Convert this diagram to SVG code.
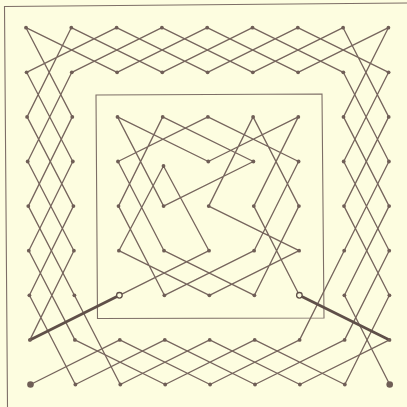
<svg xmlns="http://www.w3.org/2000/svg" width="407" height="407" viewBox="0 0 407 407">
<style>
.bg{fill:#fdfde0}
.frame{fill:none;stroke:#7d6e66;stroke-width:1.1}
.path{fill:none;stroke:#76655d;stroke-width:1.3;stroke-linejoin:round}
.thick{stroke:#5f4f48;stroke-width:2.8;stroke-linecap:round}
.dot{fill:#6f5e56}
.big{fill:#6f5e56}
.open{fill:#fdfde0;stroke:#5f4f48;stroke-width:1.3}
</style>
<rect class="bg" x="0" y="0" width="407" height="407"/>
<g id="frame">
<polyline class="frame" points="407,3 4.5,6.5 7.5,407"/>
<polygon class="frame" points="96,95 322,94 324,318 97.5,318.5"/>
</g>
<g id="connectors">
<polyline class="path" points="119.4,295.3 209.0,250.7 163.5,166 118.9,250.7 209.4,295.3 299.1,250.7 208.7,206.1 253.1,116.9 298.9,206.1 254.4,295.3 164.0,250.7 118.0,161.5 207.9,116.9 298.6,161.5 254.1,250.7 164.4,295.3 118.5,206.1 162.7,116.9 253.4,161.5 163.6,206.1 117.5,116.9 208.3,161.5 298.3,116.9 253.8,206.1 299.4,295.3"/>
<polyline class="path" points="30.5,384.5 119.8,339.9 210.1,384.5 299.6,339.9 344.2,250.7 388.9,161.5 343.3,72.3 252.5,27.7 162.3,72.3 71.3,27.7 27.1,116.9 73.4,206.1 29.4,295.3 75.4,384.5 164.8,339.9 255.0,384.5 344.6,339.9 389.2,250.7 343.7,161.5 388.6,72.3 297.8,27.7 207.6,72.3 116.6,27.7 26.6,72.3 72.8,161.5 28.8,250.7 74.9,339.9 165.2,384.5 254.7,339.9 344.8,384.5 389.4,295.3 344.0,206.1 388.7,116.9 343.1,27.7 252.8,72.3 161.9,27.7 71.8,72.3 27.7,161.5 73.9,250.7 29.9,339.9"/>
<polyline class="path" points="389.5,339.9 299.9,384.5 209.7,339.9 120.3,384.5 74.4,295.3 28.3,206.1 72.3,116.9 26.0,27.7 117.1,72.3 207.2,27.7 298.1,72.3 388.4,27.7 343.5,116.9 389.1,206.1 344.4,295.3 389.7,384.5"/>
<line class="thick" x1="29.9" y1="339.9" x2="117" y2="296.5"/>
<line class="thick" x1="301.8" y1="296.5" x2="389.5" y2="339.9"/>
</g>
<g id="n00"><circle class="dot" cx="26.0" cy="27.7" r="1.9"/></g>
<g id="n10"><circle class="dot" cx="71.3" cy="27.7" r="1.9"/></g>
<g id="n20"><circle class="dot" cx="116.6" cy="27.7" r="1.9"/></g>
<g id="n30"><circle class="dot" cx="161.9" cy="27.7" r="1.9"/></g>
<g id="n40"><circle class="dot" cx="207.2" cy="27.7" r="1.9"/></g>
<g id="n50"><circle class="dot" cx="252.5" cy="27.7" r="1.9"/></g>
<g id="n60"><circle class="dot" cx="297.8" cy="27.7" r="1.9"/></g>
<g id="n70"><circle class="dot" cx="343.1" cy="27.7" r="1.9"/></g>
<g id="n80"><circle class="dot" cx="388.4" cy="27.7" r="1.9"/></g>
<g id="n01"><circle class="dot" cx="26.6" cy="72.3" r="1.9"/></g>
<g id="n11"><circle class="dot" cx="71.8" cy="72.3" r="1.9"/></g>
<g id="n21"><circle class="dot" cx="117.1" cy="72.3" r="1.9"/></g>
<g id="n31"><circle class="dot" cx="162.3" cy="72.3" r="1.9"/></g>
<g id="n41"><circle class="dot" cx="207.6" cy="72.3" r="1.9"/></g>
<g id="n51"><circle class="dot" cx="252.8" cy="72.3" r="1.9"/></g>
<g id="n61"><circle class="dot" cx="298.1" cy="72.3" r="1.9"/></g>
<g id="n71"><circle class="dot" cx="343.3" cy="72.3" r="1.9"/></g>
<g id="n81"><circle class="dot" cx="388.6" cy="72.3" r="1.9"/></g>
<g id="n02"><circle class="dot" cx="27.1" cy="116.9" r="1.9"/></g>
<g id="n12"><circle class="dot" cx="72.3" cy="116.9" r="1.9"/></g>
<g id="n22"><circle class="dot" cx="117.5" cy="116.9" r="1.9"/></g>
<g id="n32"><circle class="dot" cx="162.7" cy="116.9" r="1.9"/></g>
<g id="n42"><circle class="dot" cx="207.9" cy="116.9" r="1.9"/></g>
<g id="n52"><circle class="dot" cx="253.1" cy="116.9" r="1.9"/></g>
<g id="n62"><circle class="dot" cx="298.3" cy="116.9" r="1.9"/></g>
<g id="n72"><circle class="dot" cx="343.5" cy="116.9" r="1.9"/></g>
<g id="n82"><circle class="dot" cx="388.7" cy="116.9" r="1.9"/></g>
<g id="n03"><circle class="dot" cx="27.7" cy="161.5" r="1.9"/></g>
<g id="n13"><circle class="dot" cx="72.8" cy="161.5" r="1.9"/></g>
<g id="n23"><circle class="dot" cx="118.0" cy="161.5" r="1.9"/></g>
<g id="n33"><circle class="dot" cx="163.5" cy="166" r="1.9"/></g>
<g id="n43"><circle class="dot" cx="208.3" cy="161.5" r="1.9"/></g>
<g id="n53"><circle class="dot" cx="253.4" cy="161.5" r="1.9"/></g>
<g id="n63"><circle class="dot" cx="298.6" cy="161.5" r="1.9"/></g>
<g id="n73"><circle class="dot" cx="343.7" cy="161.5" r="1.9"/></g>
<g id="n83"><circle class="dot" cx="388.9" cy="161.5" r="1.9"/></g>
<g id="n04"><circle class="dot" cx="28.3" cy="206.1" r="1.9"/></g>
<g id="n14"><circle class="dot" cx="73.4" cy="206.1" r="1.9"/></g>
<g id="n24"><circle class="dot" cx="118.5" cy="206.1" r="1.9"/></g>
<g id="n34"><circle class="dot" cx="163.6" cy="206.1" r="1.9"/></g>
<g id="n44"><circle class="dot" cx="208.7" cy="206.1" r="1.9"/></g>
<g id="n54"><circle class="dot" cx="253.8" cy="206.1" r="1.9"/></g>
<g id="n64"><circle class="dot" cx="298.9" cy="206.1" r="1.9"/></g>
<g id="n74"><circle class="dot" cx="344.0" cy="206.1" r="1.9"/></g>
<g id="n84"><circle class="dot" cx="389.1" cy="206.1" r="1.9"/></g>
<g id="n05"><circle class="dot" cx="28.8" cy="250.7" r="1.9"/></g>
<g id="n15"><circle class="dot" cx="73.9" cy="250.7" r="1.9"/></g>
<g id="n25"><circle class="dot" cx="118.9" cy="250.7" r="1.9"/></g>
<g id="n35"><circle class="dot" cx="164.0" cy="250.7" r="1.9"/></g>
<g id="n45"><circle class="dot" cx="209.0" cy="250.7" r="1.9"/></g>
<g id="n55"><circle class="dot" cx="254.1" cy="250.7" r="1.9"/></g>
<g id="n65"><circle class="dot" cx="299.1" cy="250.7" r="1.9"/></g>
<g id="n75"><circle class="dot" cx="344.2" cy="250.7" r="1.9"/></g>
<g id="n85"><circle class="dot" cx="389.2" cy="250.7" r="1.9"/></g>
<g id="n06"><circle class="dot" cx="29.4" cy="295.3" r="1.9"/></g>
<g id="n16"><circle class="dot" cx="74.4" cy="295.3" r="1.9"/></g>
<g id="n26"><circle class="open" cx="119.4" cy="295.3" r="2.8"/></g>
<g id="n36"><circle class="dot" cx="164.4" cy="295.3" r="1.9"/></g>
<g id="n46"><circle class="dot" cx="209.4" cy="295.3" r="1.9"/></g>
<g id="n56"><circle class="dot" cx="254.4" cy="295.3" r="1.9"/></g>
<g id="n66"><circle class="open" cx="299.4" cy="295.3" r="2.8"/></g>
<g id="n76"><circle class="dot" cx="344.4" cy="295.3" r="1.9"/></g>
<g id="n86"><circle class="dot" cx="389.4" cy="295.3" r="1.9"/></g>
<g id="n07"><circle class="dot" cx="29.9" cy="339.9" r="1.9"/></g>
<g id="n17"><circle class="dot" cx="74.9" cy="339.9" r="1.9"/></g>
<g id="n27"><circle class="dot" cx="119.8" cy="339.9" r="1.9"/></g>
<g id="n37"><circle class="dot" cx="164.8" cy="339.9" r="1.9"/></g>
<g id="n47"><circle class="dot" cx="209.7" cy="339.9" r="1.9"/></g>
<g id="n57"><circle class="dot" cx="254.7" cy="339.9" r="1.9"/></g>
<g id="n67"><circle class="dot" cx="299.6" cy="339.9" r="1.9"/></g>
<g id="n77"><circle class="dot" cx="344.6" cy="339.9" r="1.9"/></g>
<g id="n87"><circle class="dot" cx="389.5" cy="339.9" r="1.9"/></g>
<g id="n08"><circle class="big" cx="30.5" cy="384.5" r="3.3"/></g>
<g id="n18"><circle class="dot" cx="75.4" cy="384.5" r="1.9"/></g>
<g id="n28"><circle class="dot" cx="120.3" cy="384.5" r="1.9"/></g>
<g id="n38"><circle class="dot" cx="165.2" cy="384.5" r="1.9"/></g>
<g id="n48"><circle class="dot" cx="210.1" cy="384.5" r="1.9"/></g>
<g id="n58"><circle class="dot" cx="255.0" cy="384.5" r="1.9"/></g>
<g id="n68"><circle class="dot" cx="299.9" cy="384.5" r="1.9"/></g>
<g id="n78"><circle class="dot" cx="344.8" cy="384.5" r="1.9"/></g>
<g id="n88"><circle class="big" cx="389.7" cy="384.5" r="3.3"/></g>
</svg>
